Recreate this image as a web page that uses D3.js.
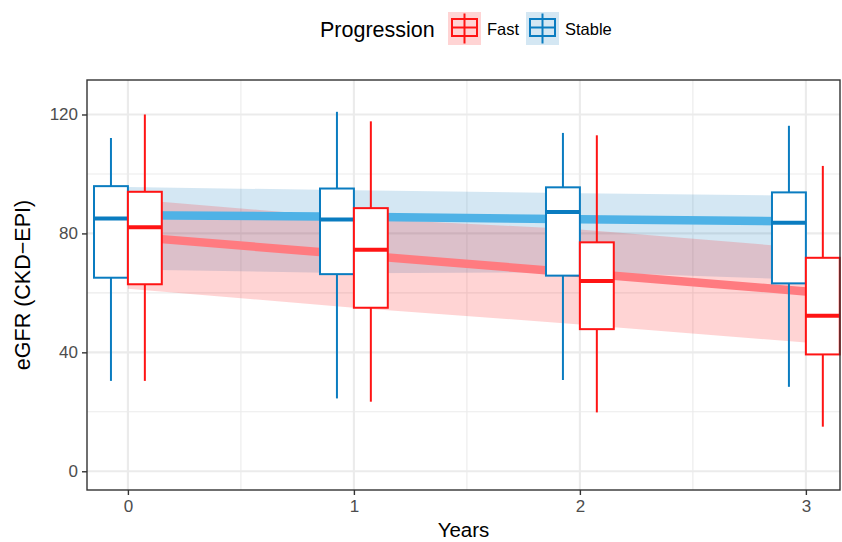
<!DOCTYPE html>
<html>
<head>
<meta charset="utf-8">
<script src="https://cdn.jsdelivr.net/npm/d3@7"></script>
<style>
  body { margin: 0; background: #fff; }
  text { font-family: "Liberation Sans", Arial, Helvetica, sans-serif; }
</style>
</head>
<body>
<svg width="842" height="542"></svg>
<script>
// data
var years = [0, 1, 2, 3];
var groups = ["Fast", "Stable"];

var stableLow  = [30.4, 24.5, 30.7, 28.4];
var stableQ1   = [65.1, 66.3, 65.8, 63.2];
var stableMed  = [85.0, 84.7, 87.2, 83.6];
var stableQ3   = [95.9, 95.1, 95.5, 93.8];
var stableHigh = [112.1, 120.9, 113.8, 116.2];

var fastLow  = [30.4, 23.4, 19.8, 15.0];
var fastQ1   = [62.9, 55.0, 47.8, 39.3];
var fastMed  = [82.1, 74.5, 64.0, 52.3];
var fastQ3   = [94.0, 88.5, 77.0, 71.8];
var fastHigh = [120.0, 117.7, 113.0, 102.7];

var stableFit   = [86.1, 85.6, 84.8, 84.0];
var stableLower = [67.9, 66.6, 67.0, 64.4];
var stableUpper = [95.6, 94.5, 93.5, 92.7];

var fastFit   = [79.0, 72.8, 66.7, 60.5];
var fastLower = [61.4, 55.0, 49.4, 43.3];
var fastUpper = [91.6, 85.2, 81.3, 75.1];

var yTicks = [0, 40, 80, 120];
var yMinor = [20, 60, 100];
var xTicks = [0, 1, 2, 3];
var xMinor = [0.5, 1.5, 2.5];

var colors = { Fast: "#ff1414", Stable: "#0a7cc0" };
var lineColors = { Fast: "#ff7b80", Stable: "#4fb2e6" };
var ribbonColors = { Fast: "#ff1a1a", Stable: "#1a80c0" };
var dodge = { Stable: -0.075, Fast: 0.075 };

var svg = d3.select("svg");
var pLeft = 87, pRight = 840, pTop = 80, pBottom = 490;

var x = d3.scaleLinear().domain([-0.181, 3.151]).range([pLeft, pRight]);
var y = d3.scaleLinear().domain([-6.3, 131.6]).range([pBottom, pTop]);

var boxes = {
  Stable: years.map(function(yr, i) {
    return { year: yr, low: stableLow[i], q1: stableQ1[i], med: stableMed[i], q3: stableQ3[i], high: stableHigh[i] };
  }),
  Fast: years.map(function(yr, i) {
    return { year: yr, low: fastLow[i], q1: fastQ1[i], med: fastMed[i], q3: fastQ3[i], high: fastHigh[i] };
  })
};
var fits = {
  Stable: years.map(function(yr, i) { return { year: yr, fit: stableFit[i], lo: stableLower[i], hi: stableUpper[i] }; }),
  Fast: years.map(function(yr, i) { return { year: yr, fit: fastFit[i], lo: fastLower[i], hi: fastUpper[i] }; })
};

// grid
var grid = svg.append("g");
grid.selectAll(".ymin").data(yMinor).enter().append("line")
  .attr("x1", pLeft).attr("x2", pRight)
  .attr("y1", function(d) { return y(d); }).attr("y2", function(d) { return y(d); })
  .style("stroke", "#ebebeb").style("stroke-width", 1.1);
grid.selectAll(".xmin").data(xMinor).enter().append("line")
  .attr("y1", pTop).attr("y2", pBottom)
  .attr("x1", function(d) { return x(d); }).attr("x2", function(d) { return x(d); })
  .style("stroke", "#ebebeb").style("stroke-width", 1.1);
grid.selectAll(".ymaj").data(yTicks).enter().append("line")
  .attr("x1", pLeft).attr("x2", pRight)
  .attr("y1", function(d) { return y(d); }).attr("y2", function(d) { return y(d); })
  .style("stroke", "#ebebeb").style("stroke-width", 2.1);
grid.selectAll(".xmaj").data(xTicks).enter().append("line")
  .attr("y1", pTop).attr("y2", pBottom)
  .attr("x1", function(d) { return x(d); }).attr("x2", function(d) { return x(d); })
  .style("stroke", "#ebebeb").style("stroke-width", 2.1);

// ribbons
var area = d3.area()
  .x(function(d) { return x(d.year); })
  .y0(function(d) { return y(d.lo); })
  .y1(function(d) { return y(d.hi); });
["Stable", "Fast"].forEach(function(g) {
  svg.append("path").datum(fits[g])
    .attr("d", area)
    .style("fill", ribbonColors[g])
    .style("fill-opacity", 0.19);
});

// fitted lines
var line = d3.line()
  .x(function(d) { return x(d.year); })
  .y(function(d) { return y(d.fit); });
["Stable", "Fast"].forEach(function(g) {
  svg.append("path").datum(fits[g])
    .attr("d", line)
    .style("fill", "none")
    .style("stroke", lineColors[g])
    .style("stroke-width", 8.5);
});

// boxplots
var bw = x(0.15) - x(0);
["Stable", "Fast"].forEach(function(g) {
  var bg = svg.append("g");
  var sel = bg.selectAll("g").data(boxes[g]).enter().append("g");
  sel.append("line")
    .attr("x1", function(d) { return x(d.year + dodge[g]); })
    .attr("x2", function(d) { return x(d.year + dodge[g]); })
    .attr("y1", function(d) { return y(d.high); })
    .attr("y2", function(d) { return y(d.q3); })
    .style("stroke", colors[g]).style("stroke-width", 2);
  sel.append("line")
    .attr("x1", function(d) { return x(d.year + dodge[g]); })
    .attr("x2", function(d) { return x(d.year + dodge[g]); })
    .attr("y1", function(d) { return y(d.q1); })
    .attr("y2", function(d) { return y(d.low); })
    .style("stroke", colors[g]).style("stroke-width", 2);
  sel.append("rect")
    .attr("x", function(d) { return x(d.year + dodge[g]) - bw / 2; })
    .attr("y", function(d) { return y(d.q3); })
    .attr("width", bw)
    .attr("height", function(d) { return y(d.q1) - y(d.q3); })
    .style("fill", "#fff")
    .style("stroke", colors[g]).style("stroke-width", 2);
  sel.append("line")
    .attr("x1", function(d) { return x(d.year + dodge[g]) - bw / 2; })
    .attr("x2", function(d) { return x(d.year + dodge[g]) + bw / 2; })
    .attr("y1", function(d) { return y(d.med); })
    .attr("y2", function(d) { return y(d.med); })
    .style("stroke", colors[g]).style("stroke-width", 4);
});

// panel border
svg.append("rect")
  .attr("x", pLeft).attr("y", pTop)
  .attr("width", pRight - pLeft).attr("height", pBottom - pTop)
  .style("fill", "none").style("stroke", "#333").style("stroke-width", 1.4);

// axes
var xAxis = svg.append("g")
  .attr("transform", "translate(0," + pBottom + ")")
  .call(d3.axisBottom(x).tickValues(xTicks).tickSize(5).tickPadding(5).tickFormat(d3.format("d")));
var yAxis = svg.append("g")
  .attr("transform", "translate(" + pLeft + ",0)")
  .call(d3.axisLeft(y).tickValues(yTicks).tickSize(5).tickPadding(4));
[xAxis, yAxis].forEach(function(a) {
  a.select(".domain").remove();
  a.selectAll(".tick line").style("stroke", "#333").style("stroke-width", 1.4);
  a.selectAll(".tick text")
    .style("font-family", "Liberation Sans, Arial, sans-serif")
    .style("font-size", "17px")
    .style("fill", "#4d4d4d");
});

svg.append("text")
  .attr("x", (pLeft + pRight) / 2)
  .attr("y", 537)
  .attr("text-anchor", "middle")
  .style("font-size", "20.5px")
  .text("Years");

svg.append("text")
  .attr("text-anchor", "middle")
  .attr("transform", "translate(30," + (pTop + pBottom) / 2 + ")rotate(-90)")
  .style("font-size", "21.5px")
  .text("eGFR (CKD\u2212EPI)");

// legend
var legend = svg.append("g");
legend.append("text")
  .attr("x", 320).attr("y", 37)
  .style("font-size", "21.5px")
  .text("Progression");

var keyX = { Fast: 448, Stable: 526 };
groups.forEach(function(g) {
  var k = legend.append("g").attr("transform", "translate(" + keyX[g] + ",12)");
  k.append("rect").attr("width", 33).attr("height", 33)
    .style("fill", ribbonColors[g]).style("fill-opacity", 0.19);
  k.append("line").attr("x1", 16.5).attr("x2", 16.5).attr("y1", 1.5).attr("y2", 31.5)
    .style("stroke", colors[g]).style("stroke-width", 2);
  k.append("rect").attr("x", 4).attr("y", 7).attr("width", 25).attr("height", 17)
    .style("fill", ribbonColors[g]).style("fill-opacity", 0)
    .style("stroke", colors[g]).style("stroke-width", 2);
  k.append("line").attr("x1", 4).attr("x2", 29).attr("y1", 15.5).attr("y2", 15.5)
    .style("stroke", colors[g]).style("stroke-width", 2);
  legend.append("text")
    .attr("x", keyX[g] + 39).attr("y", 35)
    .style("font-size", "16.5px")
    .text(g);
});
</script>
</body>
</html>
